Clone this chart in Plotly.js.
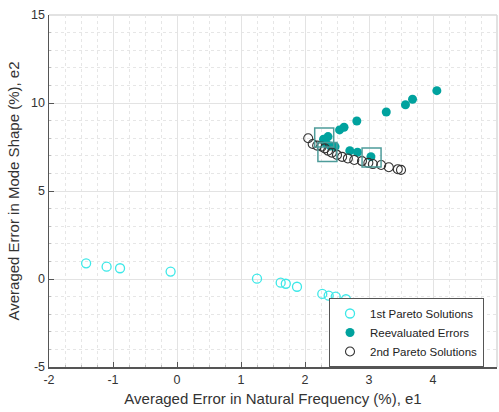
<!DOCTYPE html>
<html>
<head>
<meta charset="utf-8">
<script src="https://cdn.plot.ly/plotly-3.0.1.min.js"></script>
<style>html,body{margin:0;padding:0;background:#fff;}#chart{width:499px;height:412px;}</style>
</head>
<body>
<div id="chart"></div>
<script>
// 1st Pareto Solutions (open cyan circles)
const pareto1X = [-1.42, -1.10, -0.89, -0.10, 1.25, 1.62, 1.70, 1.875, 2.27, 2.37, 2.48, 2.64];
const pareto1Y = [0.89, 0.70, 0.61, 0.42, 0.02, -0.21, -0.27, -0.44, -0.85, -0.95, -1.00, -1.15];

// Reevaluated Errors (filled teal circles)
const reevalX = [4.06, 3.68, 3.57, 3.27, 2.81, 2.61, 2.54, 2.36, 2.29, 2.33, 2.40, 2.47, 2.70, 2.82, 3.03];
const reevalY = [10.70, 10.21, 9.90, 9.49, 8.98, 8.62, 8.47, 8.09, 7.94, 7.70, 7.55, 7.52, 7.29, 7.20, 6.95];

// 2nd Pareto Solutions (open dark circles)
const pareto2X = [2.05, 2.12, 2.19, 2.26, 2.31, 2.36, 2.42, 2.50, 2.58, 2.67, 2.77, 2.89, 2.99, 3.06, 3.19, 3.31, 3.45, 3.50];
const pareto2Y = [8.00, 7.67, 7.58, 7.52, 7.42, 7.29, 7.18, 7.05, 6.94, 6.85, 6.76, 6.70, 6.60, 6.53, 6.48, 6.35, 6.24, 6.20];

// Highlighted (squares)
const selX = [2.30, 2.35, 3.04];
const selY = [8.04, 7.22, 6.90];

// Tick labels
const xTickVals = [-2, -1, 0, 1, 2, 3, 4, 5];
const xTickText = ['-2', '-1', '0', '1', '2', '3', '4', '5'];
const yTickVals = [-5, 0, 5, 10, 15];
const yTickText = ['-5', '0', '5', '10', '15'];

const legendNames = ['1st Pareto Solutions', 'Reevaluated Errors', '2nd Pareto Solutions'];

const traces = [
  {x: pareto1X, y: pareto1Y, type: 'scatter', mode: 'markers', name: legendNames[0],
   marker: {symbol: 'circle-open', size: 9, color: '#3DE8E8', line: {width: 1.3}}},
  {x: reevalX, y: reevalY, type: 'scatter', mode: 'markers', name: legendNames[1],
   marker: {symbol: 'circle', size: 9, color: '#00A29E', line: {width: 0}}},
  {x: pareto2X, y: pareto2Y, type: 'scatter', mode: 'markers', name: legendNames[2],
   marker: {symbol: 'circle-open', size: 9, color: '#333333', line: {width: 1.1}}},
  {x: selX, y: selY, type: 'scatter', mode: 'markers', showlegend: false, hoverinfo: 'skip',
   marker: {symbol: 'square-open', size: 19, color: '#4E9C9A', line: {width: 1.5}}}
];

const font = {family: 'Arial, "Liberation Sans", sans-serif', size: 12, color: '#333'};

const layout = {
  width: 499, height: 412,
  margin: {l: 49, r: 2, t: 15, b: 45},
  paper_bgcolor: '#fff', plot_bgcolor: '#fff',
  font: font,
  showlegend: true,
  legend: {x: 0.971, y: 0.196, xanchor: 'right', yanchor: 'top',
           bgcolor: '#fff', bordercolor: '#555', borderwidth: 1,
           font: {family: font.family, size: 11.5, color: '#222'},
           tracegroupgap: 0, itemwidth: 30},
  xaxis: {range: [-2, 5], tickmode: 'array', tickvals: xTickVals, ticktext: xTickText,
          showgrid: true, gridcolor: '#e3e3e3', gridwidth: 1,
          zeroline: false, showline: true, linecolor: '#555', linewidth: 1.5,
          ticks: 'inside', ticklen: 5, tickcolor: '#555', tickfont: {size: 12.5, color: '#333'},
          minor: {dtick: 0.25, tick0: 0, showgrid: true, gridcolor: '#e6e6e6', griddash: 'dot', gridwidth: 1, ticks: 'inside', ticklen: 2, tickcolor: '#bbb'},
          title: {text: 'Averaged Error in Natural Frequency (%), e1', font: {size: 15, color: '#333'}, standoff: 8}},
  yaxis: {range: [-5, 15], tickmode: 'array', tickvals: yTickVals, ticktext: yTickText,
          showgrid: true, gridcolor: '#e3e3e3', gridwidth: 1,
          zeroline: false, showline: true, linecolor: '#555', linewidth: 1.5,
          ticks: 'inside', ticklen: 5, tickcolor: '#555', tickfont: {size: 12.5, color: '#333'},
          minor: {dtick: 1, tick0: 0, showgrid: true, gridcolor: '#e6e6e6', griddash: 'dot', gridwidth: 1, ticks: 'inside', ticklen: 2, tickcolor: '#bbb'},
          title: {text: 'Averaged Error in Mode Shape (%), e2', font: {size: 15, color: '#333'}, standoff: 8}},
  shapes: [
    {type: 'line', xref: 'paper', yref: 'paper', x0: 0, x1: 1, y0: 1, y1: 1, line: {color: '#d8d8d8', width: 1.5}, layer: 'below'},
    {type: 'line', xref: 'paper', yref: 'paper', x0: 1, x1: 1, y0: 0, y1: 1, line: {color: '#d8d8d8', width: 1.5}, layer: 'below'}
  ]
};

Plotly.newPlot('chart', traces, layout, {displayModeBar: false, staticPlot: true});
</script>
</body>
</html>
